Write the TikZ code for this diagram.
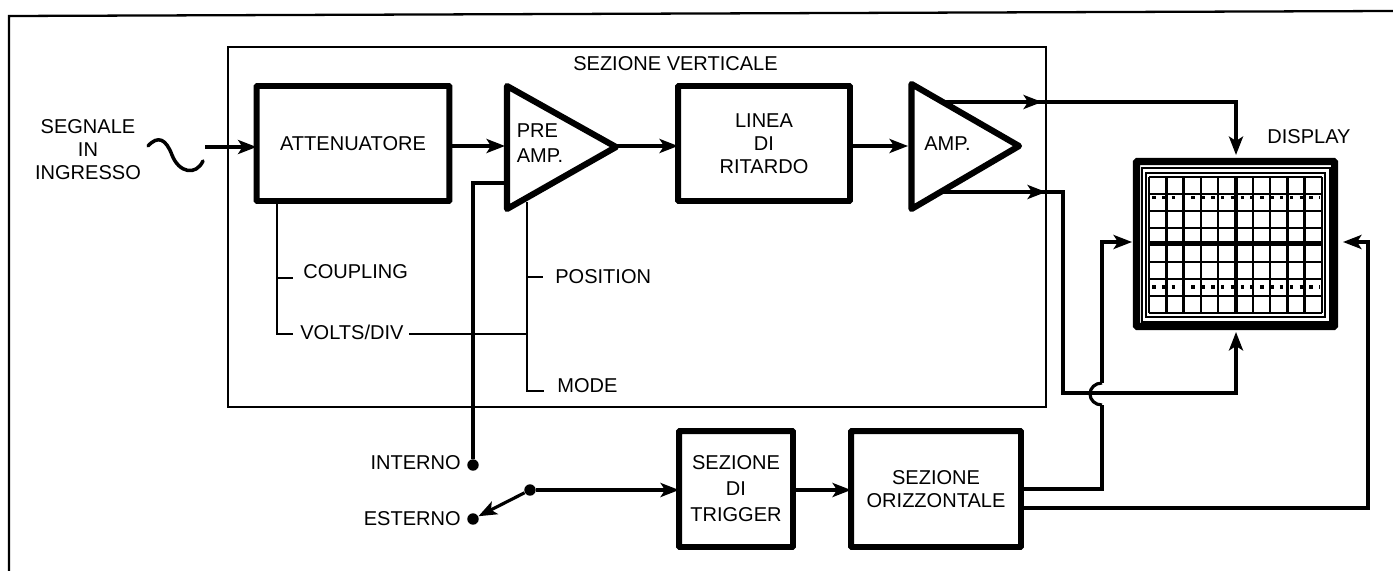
\documentclass[tikz,border=0pt]{standalone}
\usepackage{fontspec}
\setmainfont{Liberation Sans}
\usetikzlibrary{arrows.meta}
\tikzset{
  blocco/.style={draw, line width=3.4pt, outer sep=0pt, rounded corners=0.5pt, align=center},
  triang/.style={draw, line width=3.5pt, line join=round},
  conn/.style={line width=1.8pt},
  frec/.style={conn, -{Stealth[length=10.5pt,width=8pt,inset=2.5pt]}},
  sottile/.style={line width=1.1pt},
  griglia/.style={line width=1.4pt},
  traccia/.style={line width=1.8pt, dash pattern=on 2pt off 3.6pt},
  punto/.style={circle, fill=black, inner sep=0pt, minimum size=6.5pt},
  testo/.style={inner sep=0pt, align=center},
}
\begin{document}
\begin{tikzpicture}[x=0.02cm, y=-0.02cm, font=\fontsize{11.4}{13}\selectfont]
\useasboundingbox (0,0) rectangle (1393,571);

% Frames
\draw [line width=1.3pt] (9,571) -- (9,16) -- (1393,11);
\draw [line width=1.3pt] (228,47) rectangle (1046,407);
\node [testo] (vert) at (675.5,64) {SEZIONE VERTICALE};

% Blocks
\node [blocco, minimum width=3.86cm, minimum height=2.3cm] (atten) at (353,143.5) {ATTENUATORE};
\node [blocco, minimum width=3.44cm, minimum height=2.3cm] (linea) at (764,143.5) {LINEA\\DI\\RITARDO};
\node [blocco, minimum width=2.28cm, minimum height=2.32cm] (trigger) at (736,489) {SEZIONE\\[1.8pt]DI\\[1.8pt]TRIGGER};
\node [blocco, minimum width=3.4cm, minimum height=2.32cm] (orizz) at (936,489) {SEZIONE\\ORIZZONTALE};

% Amplifiers
\coordinate (preamp in) at (505,146);
\coordinate (preamp out) at (616,146);
\coordinate (amp in) at (908,146);
\draw [triang] (507,86) -- (616,147) -- (507,209) -- cycle;
\draw [triang] (911.5,84) -- (1019,146) -- (911.5,209) -- cycle;
\node [testo, align=left] (pre) at (540,143) {PRE\\[1pt]AMP.};
\node [testo] (amp) at (947.5,144) {AMP.};

% Display
\draw [line width=4pt, rounded corners=0.5pt] (1136.5,161.5) rectangle (1334.5,326.5);
\draw [line width=0.9pt] (1142,168) rectangle (1330,322);
\draw [line width=0.9pt] (1146,173) rectangle (1325,317);
\foreach \i in {0,...,10} \draw [griglia] (1149+17.3*\i,177) -- (1149+17.3*\i,313);
\foreach \j in {0,...,8} \draw [griglia] (1149,177+17*\j) -- (1322,177+17*\j);
\draw [griglia, line width=1.7pt] (1236,177) -- (1236,313);
\draw [griglia, line width=1.8pt] (1149,243) -- (1322,243);
\draw [traccia] (1152,197.5) -- (1320,197.5);
\draw [traccia] (1152,287) -- (1320,287);
\coordinate (disp top) at (1236,155);
\coordinate (disp bot) at (1236,332);
\coordinate (disp left) at (1132,242);
\coordinate (disp right) at (1343,242);
\node [testo] (display) at (1309,137) {DISPLAY};

% Input
\node [testo] (segnale) at (88,149.5) {SEGNALE\\IN\\INGRESSO};
\draw [line width=2pt, line cap=round] (148,146) .. controls (158,135) and (166,139) .. (172,155) .. controls (179,173) and (196,176) .. (203,161);
\coordinate (ingresso) at (205,147);
\draw [frec] (ingresso) -- (atten.west |- ingresso);
\draw [frec] (atten.east |- preamp in) -- (preamp in);
\draw [frec] (preamp out) -- (linea.west |- preamp out);
\draw [frec] (linea.east |- amp in) -- (amp in);

% Outputs of the amplifier
\coordinate (amp up) at (943,102);
\coordinate (amp dw) at (941,192);
\draw [frec] (amp up) -- (1042,102);
\draw [frec] (1036,102) -| (disp top);
\draw [frec] (amp dw) -- (1046,192);
\draw [conn] (1040,192) -| (1063,393) -- (1090,393);
\draw [frec] (1090,393) -| (disp bot);

% Horizontal section to display
\coordinate (ponte) at (1102,405);
\draw [conn] (orizz.east |- 0,489) -| (ponte);
\draw [conn] (ponte) .. controls (1095,405) and (1090,400) .. (1090,394) .. controls (1090,388) and (1095,383) .. (1102,383);
\draw [frec] (1102,383) |- (disp left);
\draw [frec] (orizz.east |- 0,508) -- (1368,508) |- (disp right);

% Controls
\coordinate (atten sw) at (277,203);
\coordinate (pre sw) at (527,202);
\node [testo, anchor=west] (coupling) at (303,272) {COUPLING};
\node [testo, anchor=west] (volts) at (300,332) {VOLTS/DIV};
\node [testo, anchor=west] (position) at (555,277) {POSITION};
\node [testo, anchor=west] (mode) at (557,386) {MODE};
\draw [sottile] (atten sw) |- (293,334);
\draw [sottile] (277,278) -- (293,278);
\draw [sottile] (pre sw) |- (544,391);
\draw [sottile] (527,277) -- (543,277);
\draw [sottile] (409,334) -- (527,334);

% Trigger selector
\node [punto] (interno) at (473,465) {};
\node [punto] (esterno) at (473,519) {};
\node [punto] (comune) at (530,490) {};
\node [testo, anchor=east] (int lab) at (461,463) {INTERNO};
\node [testo, anchor=east] (est lab) at (461,519) {ESTERNO};
\draw [conn] (interno) |- (preamp in |- 0,183);
\draw [frec] (comune) -- (esterno);
\draw [frec] (comune) -- (trigger.west |- comune);
\draw [frec] (trigger.east |- comune) -- (orizz.west |- comune);
\end{tikzpicture}
\end{document}
